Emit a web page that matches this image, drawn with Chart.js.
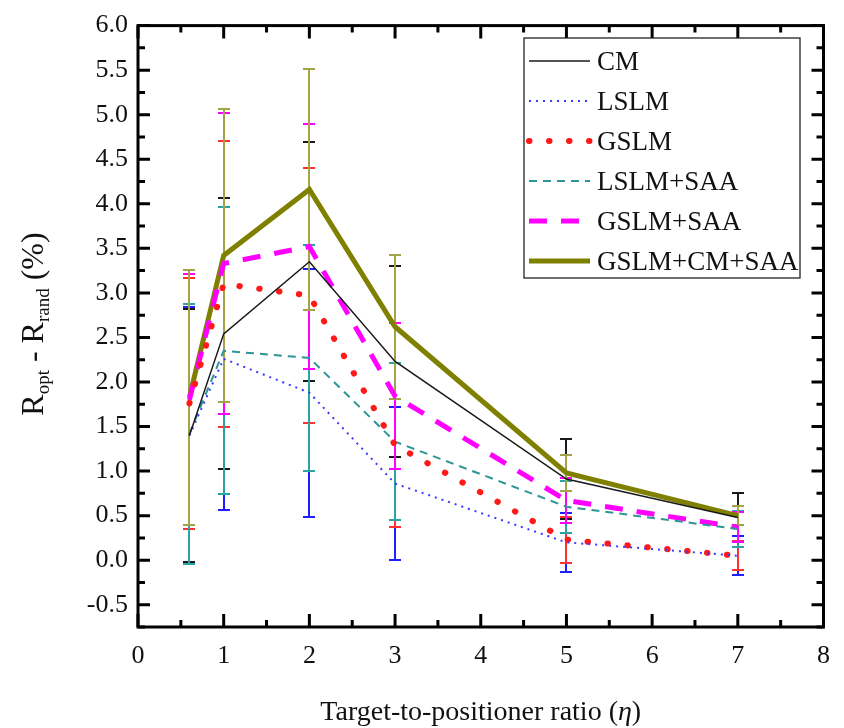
<!DOCTYPE html>
<html>
<head>
<meta charset="utf-8">
<script src="https://cdn.jsdelivr.net/npm/chart.js@4/dist/chart.umd.min.js"></script>
<style>
  html, body { margin: 0; padding: 0; background: #fff; }
  #wrap { width: 844px; height: 728px; position: relative; }
</style>
</head>
<body>
<div id="wrap"><canvas id="c" width="844" height="728"></canvas></div>
<script>
// ---- data ----
const xVals = [0.6, 1, 2, 3, 5, 7];
const seriesNames = ["CM", "LSLM", "GSLM", "LSLM+SAA", "GSLM+SAA", "GSLM+CM+SAA"];
const cmVals      = [1.40, 2.54, 3.35, 2.23, 0.91, 0.48];
const cmErr       = [1.42, 1.52, 1.34, 1.07, 0.45, 0.27];
const lslmVals    = [1.40, 2.26, 1.88, 0.86, 0.20, 0.05];
const lslmErr     = [1.44, 1.70, 1.39, 0.86, 0.33, 0.22];
const gslmVals    = [1.76, 3.10, 2.97, 1.29, 0.23, 0.05];
const gslmErr     = [1.41, 1.61, 1.43, 0.92, 0.26, 0.16];
const lslmSaaVals = [1.42, 2.35, 2.27, 1.33, 0.60, 0.35];
const lslmSaaErr  = [1.46, 1.61, 1.27, 0.88, 0.29, 0.20];
const gslmSaaVals = [1.80, 3.33, 3.52, 1.84, 0.67, 0.37];
const gslmSaaErr  = [1.41, 1.69, 1.37, 0.82, 0.25, 0.17];
const comboVals   = [1.83, 3.42, 4.16, 2.62, 0.98, 0.50];
const comboErr    = [1.43, 1.64, 1.35, 0.81, 0.20, 0.11];
const xTickVals = [0, 1, 2, 3, 4, 5, 6, 7, 8];
const yTickVals = [-0.5, 0, 0.5, 1, 1.5, 2, 2.5, 3, 3.5, 4, 4.5, 5, 5.5, 6];

const SERIF = '"Liberation Serif", "Times New Roman", serif';

function pts(vals) { return xVals.map((x, i) => ({ x: x, y: vals[i] })); }

const datasets = [
  { label: seriesNames[0], data: pts(cmVals), err: cmErr, borderColor: '#1a1a1a', errColor: '#1a1a1a',
    borderWidth: 1.5, borderDash: [] },
  { label: seriesNames[1], data: pts(lslmVals), err: lslmErr, borderColor: '#3a3aff', errColor: '#1e1eff',
    borderWidth: 2, borderDash: [2, 5] },
  { label: seriesNames[2], data: pts(gslmVals), err: gslmErr, borderColor: '#ff1a1a', errColor: '#ff3030',
    borderWidth: 6, borderDash: [0.5, 19.5], borderCapStyle: 'round' },
  { label: seriesNames[3], data: pts(lslmSaaVals), err: lslmSaaErr, borderColor: '#2f9494', errColor: '#2aa3a3',
    borderWidth: 2, borderDash: [8, 6] },
  { label: seriesNames[4], data: pts(gslmSaaVals), err: gslmSaaErr, borderColor: '#ff00ff', errColor: '#ff00ff',
    borderWidth: 5, borderDash: [18, 14] },
  { label: seriesNames[5], data: pts(comboVals), err: comboErr, borderColor: '#808000', errColor: '#a3a347',
    borderWidth: 5, borderDash: [] }
];
datasets.forEach(d => { d.pointRadius = 0; d.fill = false; d.tension = 0; d.backgroundColor = d.borderColor; });

// order in which error bars are painted (bottom first)
const errOrder = [1, 0, 2, 3, 4, 5];

const errorBars = {
  id: 'errorBars',
  beforeDatasetsDraw(chart) {
    const { ctx, scales: { x, y } } = chart;
    ctx.save();
    ctx.lineWidth = 2;
    ctx.lineCap = 'butt';
    errOrder.forEach(di => {
      const ds = chart.data.datasets[di];
      ctx.strokeStyle = ds.errColor;
      ds.data.forEach((p, i) => {
        const px = Math.round(x.getPixelForValue(p.x));
        const t = Math.round(y.getPixelForValue(p.y + ds.err[i]));
        const b = Math.round(y.getPixelForValue(p.y - ds.err[i]));
        ctx.beginPath();
        ctx.moveTo(px, t); ctx.lineTo(px, b);
        ctx.moveTo(px - 6, t); ctx.lineTo(px + 6, t);
        ctx.moveTo(px - 6, b); ctx.lineTo(px + 6, b);
        ctx.stroke();
      });
    });
    ctx.restore();
  }
};

const frame = {
  id: 'frame',
  afterDraw(chart) {
    const { ctx, chartArea: a, scales: { x, y } } = chart;
    ctx.save();
    ctx.strokeStyle = '#000';
    ctx.lineWidth = 3;
    ctx.lineCap = 'butt';
    ctx.beginPath();
    // y ticks (major every 0.5, minor every 0.25)
    for (let k = Math.ceil(y.min * 4); k <= Math.floor(y.max * 4 + 1e-9); k++) {
      const v = k / 4;
      const p = y.getPixelForValue(v);
      const L = (k % 2 === 0) ? 12 : 7;
      ctx.moveTo(a.left, p); ctx.lineTo(a.left + L, p);
      ctx.moveTo(a.right, p); ctx.lineTo(a.right - L, p);
    }
    for (let k = Math.ceil(x.min * 2); k <= Math.floor(x.max * 2 + 1e-9); k++) {
      const v = k / 2;
      const p = x.getPixelForValue(v);
      const L = (k % 2 === 0) ? 13 : 7;
      ctx.moveTo(p, a.bottom); ctx.lineTo(p, a.bottom - L);
      ctx.moveTo(p, a.top); ctx.lineTo(p, a.top + L);
    }
    ctx.stroke();
    ctx.strokeRect(a.left, a.top, a.right - a.left, a.bottom - a.top);

    // legend
    const lx0 = 524, ly0 = 38, lx1 = 800, ly1 = 278;
    ctx.fillStyle = '#fff';
    ctx.fillRect(lx0, ly0, lx1 - lx0, ly1 - ly0);
    ctx.lineWidth = 1.3;
    ctx.strokeStyle = '#222';
    ctx.strokeRect(lx0, ly0, lx1 - lx0, ly1 - ly0);
    chart.data.datasets.forEach((ds, i) => {
      const ry = 61 + i * 40;
      ctx.save();
      ctx.strokeStyle = ds.borderColor;
      ctx.lineWidth = ds.borderWidth;
      ctx.setLineDash(ds.borderDash || []);
      ctx.lineCap = ds.borderCapStyle || 'butt';
      ctx.beginPath();
      ctx.moveTo(529, ry); ctx.lineTo(590, ry);
      ctx.stroke();
      ctx.restore();
      ctx.fillStyle = '#111';
      ctx.font = '27px ' + SERIF;
      ctx.textBaseline = 'middle';
      ctx.textAlign = 'left';
      ctx.fillText(ds.label, 597, ry + 2);
    });

    // x-axis title
    ctx.fillStyle = '#111';
    ctx.textBaseline = 'alphabetic';
    const fMain = '28px ' + SERIF;
    const fIt = 'italic 28px ' + SERIF;
    const parts = [["Target-to-positioner ratio (", fMain], ["\u03B7", fIt], [")", fMain]];
    let tw = 0;
    parts.forEach(p => { ctx.font = p[1]; tw += ctx.measureText(p[0]).width; });
    let cx = (a.left + a.right) / 2 - tw / 2;
    parts.forEach(p => { ctx.font = p[1]; ctx.fillText(p[0], cx, 720); cx += ctx.measureText(p[0]).width; });

    // y-axis title with subscripts
    ctx.save();
    ctx.translate(43, 324);
    ctx.rotate(-Math.PI / 2);
    const yParts = [["R", '32px ' + SERIF, 0], ["opt", '19px ' + SERIF, 6], [" - ", '32px ' + SERIF, 0],
                    ["R", '32px ' + SERIF, 0], ["rand", '19px ' + SERIF, 6], [" (%)", '32px ' + SERIF, 0]];
    let yw = 0;
    yParts.forEach(p => { ctx.font = p[1]; yw += ctx.measureText(p[0]).width; });
    let yx = -yw / 2;
    yParts.forEach(p => { ctx.font = p[1]; ctx.fillText(p[0], yx, p[2]); yx += ctx.measureText(p[0]).width; });
    ctx.restore();

    ctx.restore();
  }
};

new Chart(document.getElementById('c'), {
  type: 'line',
  data: { datasets: datasets },
  options: {
    responsive: false,
    animation: false,
    devicePixelRatio: 1,
    layout: { padding: { top: 20, right: 16, left: 0, bottom: 0 } },
    plugins: { legend: { display: false }, tooltip: { enabled: false } },
    scales: {
      x: {
        type: 'linear', min: 0, max: 8,
        grid: { display: false, drawTicks: false },
        border: { display: false },
        afterBuildTicks: s => { s.ticks = xTickVals.map(v => ({ value: v })); },
        afterFit: s => { s.height = 101; },
        ticks: { color: '#111', font: { family: SERIF, size: 26 }, padding: 14, maxRotation: 0,
                 callback: v => String(v) }
      },
      y: {
        type: 'linear', min: -0.75, max: 6.0,
        grid: { display: false, drawTicks: false },
        border: { display: false },
        afterBuildTicks: s => { s.ticks = yTickVals.map(v => ({ value: v })); },
        afterFit: s => { s.width = 138; },
        ticks: { color: '#111', font: { family: SERIF, size: 26 }, padding: 10,
                 callback: v => Number(v).toFixed(1) }
      }
    }
  },
  plugins: [errorBars, frame]
});
</script>
</body>
</html>
